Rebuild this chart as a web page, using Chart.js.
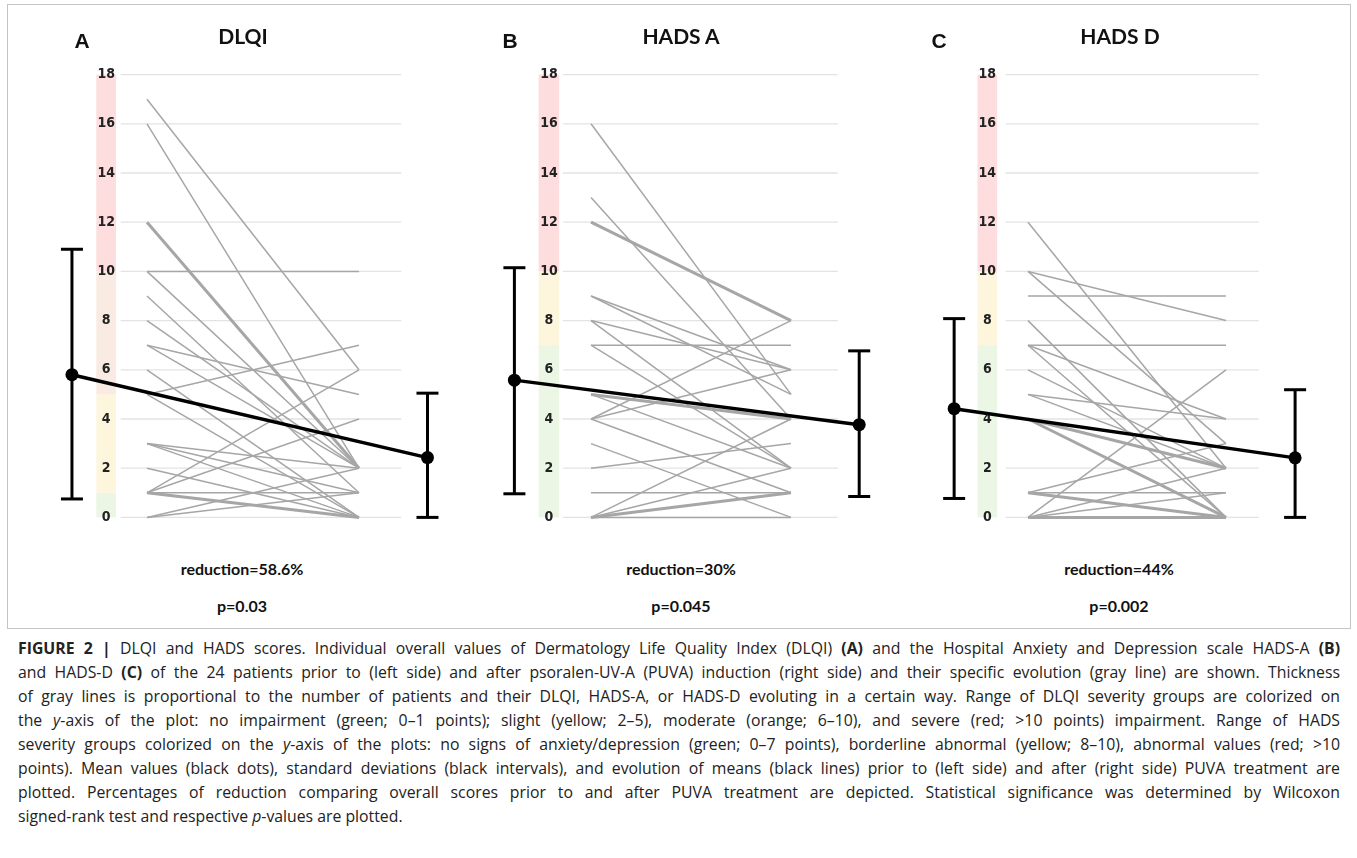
<!DOCTYPE html>
<html>
<head>
<meta charset="utf-8">
<script src="https://cdn.jsdelivr.net/npm/chart.js@4.4.1/dist/chart.umd.min.js"></script>
<style>
body { margin: 0; background: #fff; }
#page { position: relative; width: 1357px; height: 858px; overflow: hidden; }
.frame { position: absolute; left: 7px; top: 4px; width: 1342px; height: 623px; border: 1px solid #c4c4c4; }
canvas { position: absolute; }
.t { position: absolute; transform: translate(-50%, -50%); white-space: nowrap; color: #111; }
.title { font: bold 21px Lato, sans-serif; }
.letter { font: bold 21px 'Liberation Sans', Arial, sans-serif; }
.note { font: bold 16px Lato, sans-serif; }
#caption { position: absolute; left: 18px; top: 636px; width: 1322px; font: 15.8px 'Open Sans', sans-serif; color: #222; line-height: 24px; }
#caption div { text-align: justify; text-align-last: justify; }
#caption div.last { text-align-last: left; }
</style>
</head>
<body>
<div id="page">
  <div class="frame"></div>
  <canvas id="cA" width="452" height="520" style="left:27px;top:36px"></canvas>
  <canvas id="cB" width="428" height="520" style="left:477px;top:36px"></canvas>
  <canvas id="cC" width="424" height="520" style="left:915px;top:36px"></canvas>
  <div id="texts"></div>
  <div id="caption">
    <div><b>FIGURE 2 |</b> DLQI and HADS scores. Individual overall values of Dermatology Life Quality Index (DLQI) <b>(A)</b> and the Hospital Anxiety and Depression scale HADS-A <b>(B)</b></div>
    <div>and HADS-D <b>(C)</b> of the 24 patients prior to (left side) and after psoralen-UV-A (PUVA) induction (right side) and their specific evolution (gray line) are shown. Thickness</div>
    <div>of gray lines is proportional to the number of patients and their DLQI, HADS-A, or HADS-D evoluting in a certain way. Range of DLQI severity groups are colorized on</div>
    <div>the <i>y</i>-axis of the plot: no impairment (green; 0–1 points); slight (yellow; 2–5), moderate (orange; 6–10), and severe (red; &gt;10 points) impairment. Range of HADS</div>
    <div>severity groups colorized on the <i>y</i>-axis of the plots: no signs of anxiety/depression (green; 0–7 points), borderline abnormal (yellow; 8–10), abnormal values (red; &gt;10</div>
    <div>points). Mean values (black dots), standard deviations (black intervals), and evolution of means (black lines) prior to (left side) and after (right side) PUVA treatment are</div>
    <div>plotted. Percentages of reduction comparing overall scores prior to and after PUVA treatment are depicted. Statistical significance was determined by Wilcoxon</div>
    <div class="last">signed-rank test and respective <i>p</i>-values are plotted.</div>
  </div>
</div>
<script>
// valors llegits de la figura
var yTicks = [0, 2, 4, 6, 8, 10, 12, 14, 16, 18];
var titols = ['DLQI', 'HADS A', 'HADS D'];
var lletres = ['A', 'B', 'C'];
var reduccions = ['reduction=58.6%', 'reduction=30%', 'reduction=44%'];
var valorsP = ['p=0.03', 'p=0.045', 'p=0.002'];

// pacients: abans (esquerra) i despres (dreta)
var dlqiAbans  = [17, 16, 12, 12, 10, 10, 9, 8, 7, 7, 6, 5, 5, 3, 3, 3, 2, 1, 1, 1, 1, 1, 0, 0];
var dlqiDespres = [6, 2, 2, 2, 10, 2, 1, 2, 5, 2, 0, 7, 0, 2, 1, 0, 0, 4, 6, 0, 0, 1, 2, 1];
var hadsAAbans  = [16, 13, 12, 12, 9, 9, 8, 8, 7, 7, 5, 5, 5, 4, 4, 4, 3, 0, 2, 1, 0, 0, 0, 0];
var hadsADespres = [5, 4, 8, 8, 5, 6, 6, 2, 7, 2, 4, 4, 2, 8, 6, 1, 0, 4, 3, 1, 2, 1, 0, 1];
var hadsDAbans  = [12, 10, 10, 9, 8, 7, 7, 7, 6, 5, 5, 4, 4, 4, 4, 1, 1, 1, 1, 0, 0, 0, 0, 0];
var hadsDDespres = [2, 8, 3, 9, 0, 7, 4, 0, 2, 4, 2, 2, 2, 0, 0, 0, 0, 1, 3, 6, 2, 0, 1, 0];

// mitjana i interval (abans, despres)
var dlqiMitjana = [5.8, 2.43];
var dlqiBaix = [0.75, 0];
var dlqiAlt = [10.9, 5.05];
var hadsAMitjana = [5.58, 3.77];
var hadsABaix = [0.96, 0.85];
var hadsAAlt = [10.15, 6.77];
var hadsDMitjana = [4.42, 2.42];
var hadsDBaix = [0.77, 0];
var hadsDAlt = [8.08, 5.19];

// franges de gravetat
var dlqiFranges = [0, 1, 5, 10, 18];
var hadsFranges = [0, 7, 10, 18];

var colorsDlqi = ['#ebf6e4', '#fdf6dd', '#f9ebe1', '#fddddd'];
var colorsHads = ['#ebf6e4', '#fdf6dd', '#fddddd'];

var panells = [
    { canvas: 'cA', abans: dlqiAbans, despres: dlqiDespres, mitjana: dlqiMitjana, baix: dlqiBaix, alt: dlqiAlt,
      franges: dlqiFranges, colors: colorsDlqi, esq: 140, unitat: 226,
      barraE: -0.354, barraD: 1.323, banda: [-0.239, -0.146], graella: [-0.124, 1.199],
      titol: [243, 35], lletra: [82, 41], nota: 242 },
    { canvas: 'cB', abans: hadsAAbans, despres: hadsADespres, mitjana: hadsAMitjana, baix: hadsABaix, alt: hadsAAlt,
      franges: hadsFranges, colors: colorsHads, esq: 584, unitat: 214,
      barraE: -0.383, barraD: 1.341, banda: [-0.262, -0.159], graella: [-0.14, 1.234],
      titol: [681, 35], lletra: [510, 41], nota: 681 },
    { canvas: 'cC', abans: hadsDAbans, despres: hadsDDespres, mitjana: hadsDMitjana, baix: hadsDBaix, alt: hadsDAlt,
      franges: hadsFranges, colors: colorsHads, esq: 1021, unitat: 212,
      barraE: -0.373, barraD: 1.349, banda: [-0.255, -0.156], graella: [-0.113, 1.165],
      titol: [1120, 35], lletra: [939, 41], nota: 1119 }
];

function fonsPlugin(p) {
    return {
        id: 'fons',
        beforeDatasetsDraw: function(chart) {
            var ctx = chart.ctx;
            var x = chart.scales.x;
            var y = chart.scales.y;
            var bx0 = x.getPixelForValue(p.banda[0]);
            var bx1 = x.getPixelForValue(p.banda[1]);
            ctx.save();
            for (var i = 0; i < p.franges.length - 1; i++) {
                var yTop = y.getPixelForValue(p.franges[i + 1]);
                var yBot = y.getPixelForValue(p.franges[i]);
                ctx.fillStyle = p.colors[i];
                ctx.fillRect(bx0, yTop, bx1 - bx0, yBot - yTop);
            }
            ctx.strokeStyle = '#e3e3e3';
            ctx.lineWidth = 1.3;
            var gx0 = x.getPixelForValue(p.graella[0]);
            var gx1 = x.getPixelForValue(p.graella[1]);
            for (var j = 0; j < yTicks.length; j++) {
                var yy = y.getPixelForValue(yTicks[j]);
                ctx.beginPath();
                ctx.moveTo(gx0, yy);
                ctx.lineTo(gx1, yy);
                ctx.stroke();
            }
            ctx.fillStyle = '#222';
            ctx.font = "bold 14px 'Liberation Sans Narrow', 'Arial Narrow', 'DejaVu Sans Condensed', sans-serif";
            ctx.textAlign = 'center';
            ctx.textBaseline = 'middle';
            for (var k = 0; k < yTicks.length; k++) {
                ctx.fillText(String(yTicks[k]), (bx0 + bx1) / 2, y.getPixelForValue(yTicks[k]));
            }
            ctx.restore();
        }
    };
}

function liniesPacients(abans, despres) {
    var comptes = {};
    var claus = [];
    for (var i = 0; i < abans.length; i++) {
        var clau = abans[i] + '|' + despres[i];
        if (!comptes[clau]) {
            comptes[clau] = 0;
            claus.push(clau);
        }
        comptes[clau] = comptes[clau] + 1;
    }
    return claus.map(function(clau) {
        var v = clau.split('|');
        return {
            data: [{ x: 0, y: Number(v[0]) }, { x: 1, y: Number(v[1]) }],
            showLine: true,
            borderColor: '#a6a6a6',
            borderWidth: 1.5 * comptes[clau],
            pointRadius: 0,
            order: 3
        };
    });
}

function crearGrafic(p) {
    var datasets = liniesPacients(p.abans, p.despres);
    var posicions = [p.barraE, p.barraD];
    for (var s = 0; s < 2; s++) {
        datasets.push({
            data: [{ x: posicions[s], y: p.baix[s] }, { x: posicions[s], y: p.alt[s] }],
            showLine: true,
            borderColor: '#000',
            borderWidth: 3,
            pointStyle: 'line',
            pointRadius: 11,
            pointBorderColor: '#000',
            pointBorderWidth: 3,
            order: 2
        });
    }
    datasets.push({
        data: [{ x: p.barraE, y: p.mitjana[0] }, { x: p.barraD, y: p.mitjana[1] }],
        showLine: true,
        borderColor: '#000',
        borderWidth: 3.5,
        pointRadius: 6.5,
        pointBackgroundColor: '#000',
        pointBorderWidth: 0,
        order: 1
    });

    var ctx = document.getElementById(p.canvas).getContext('2d');
    return new Chart(ctx, {
        type: 'scatter',
        data: { datasets: datasets },
        options: {
            responsive: false,
            animation: false,
            events: [],
            layout: { padding: 0 },
            plugins: { legend: { display: false }, tooltip: { enabled: false } },
            scales: {
                x: { type: 'linear', min: -0.5, max: 1.5, display: false },
                y: { type: 'linear', min: -1, max: 19, display: false }
            }
        },
        plugins: [fonsPlugin(p)]
    });
}

function afegirText(classe, text, x, y) {
    var d = document.createElement('div');
    d.className = 't ' + classe;
    d.textContent = text;
    d.style.left = x + 'px';
    d.style.top = y + 'px';
    document.getElementById('texts').appendChild(d);
}

document.addEventListener('DOMContentLoaded', function() {
    for (var i = 0; i < panells.length; i++) {
        var p = panells[i];
        crearGrafic(p);
        afegirText('title', titols[i], p.titol[0], p.titol[1]);
        afegirText('letter', lletres[i], p.lletra[0], p.lletra[1]);
        afegirText('note', reduccions[i], p.nota, 568);
        afegirText('note', valorsP[i], p.nota, 605);
    }
});
</script>
</body>
</html>
